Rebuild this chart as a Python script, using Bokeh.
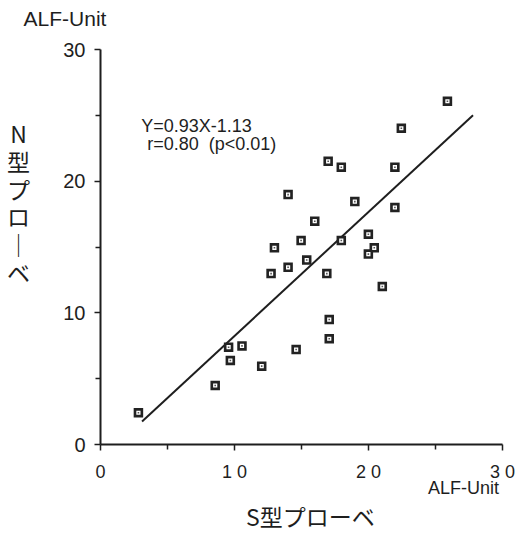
from bokeh.plotting import figure
from bokeh.models import Label, FixedTicker
from bokeh.embed import file_html
from bokeh.resources import INLINE

# --- data ---
s_probe = [2.83, 8.56, 9.56, 9.69, 10.56, 12.03, 12.73, 12.98, 14.0, 14.0,
           14.97, 15.39, 15.99, 16.99, 16.89, 17.07, 17.07, 14.6, 17.97, 17.97,
           18.98, 19.99, 19.99, 20.43, 21.03, 21.97, 21.97, 22.45, 25.89]
n_probe = [2.41, 4.48, 7.39, 6.38, 7.49, 5.95, 12.98, 14.94, 13.46, 18.98,
           15.49, 14.01, 16.96, 21.51, 12.98, 9.49, 8.03, 7.21, 21.06, 15.49,
           18.45, 15.97, 14.46, 14.94, 12.0, 21.06, 18.0, 24.02, 26.07]
fit_x = [3.1, 27.8]
fit_y = [1.75, 25.0]

x_ticks = [0, 10, 20, 30]
x_tick_labels = ["0", "1 0", "2 0", "3 0"]
y_ticks = [0, 10, 20, 30]
minor = [5, 15, 25]

eq_line1 = "Y=0.93X-1.13"
eq_line2 = "r=0.80\u00a0 (p<0.01)"
unit = "ALF-Unit"
x_title = "S型プローベ"
y_title_chars = ["N", "型", "プ", "ロ", "｜", "ベ"]

INK = "#1e1e1e"
LAT = "Liberation Sans"
JP = "Noto Sans CJK JP"

p = figure(width=515, height=533, x_range=(0, 30), y_range=(0, 30),
           output_backend="svg", toolbar_location=None,
           min_border_left=100, min_border_right=13,
           min_border_top=49, min_border_bottom=89)
p.xgrid.visible = False
p.ygrid.visible = False
p.outline_line_color = None
p.background_fill_color = "white"
p.border_fill_color = "white"

for ax in (p.xaxis[0], p.yaxis[0]):
    ax.axis_line_color = INK
    ax.axis_line_width = 2
    ax.major_tick_line_color = INK
    ax.minor_tick_line_color = INK
    ax.major_tick_line_width = 1.5
    ax.minor_tick_line_width = 1.5
    ax.major_tick_in = 0
    ax.minor_tick_in = 0
    ax.major_tick_out = 6
    ax.minor_tick_out = 5
    ax.major_label_text_font = LAT
    ax.major_label_text_color = INK

p.xaxis.ticker = FixedTicker(ticks=x_ticks, minor_ticks=minor)
p.yaxis.ticker = FixedTicker(ticks=y_ticks, minor_ticks=minor)
p.xaxis.major_label_overrides = {t: l for t, l in zip(x_ticks, x_tick_labels)}
p.xaxis.major_label_text_font_size = "18px"
p.xaxis.major_label_standoff = 11
p.yaxis.major_label_text_font_size = "20px"
p.yaxis.major_label_standoff = 9

# regression line
p.line(fit_x, fit_y, line_color=INK, line_width=2)

# markers: dark square, white inner square, small centre dot
p.scatter(s_probe, n_probe, marker="square", size=9.5, fill_color="#222222", line_color=None)
p.scatter(s_probe, n_probe, marker="square", size=4.2, fill_color="white", line_color=None)
p.scatter(s_probe, n_probe, marker="square", size=1.6, fill_color="#555555", line_color=None)

# equation text (inside the frame)
p.add_layout(Label(x=3.04, y=24.22, text=eq_line1, text_font=LAT, text_font_size="18px",
                   text_color=INK, text_baseline="alphabetic"))
p.add_layout(Label(x=3.49, y=22.82, text=eq_line2, text_font=LAT, text_font_size="18px",
                   text_color=INK, text_baseline="alphabetic"))

# texts outside the frame: placed in side panels so that they are not clipped,
# positioned with the plot's data scales
p.add_layout(Label(x=-2.65, y=32.39, text=unit, text_font=LAT, text_font_size="21px",
                   text_color=INK, text_align="center", text_baseline="middle"), "above")
p.add_layout(Label(x=27.09, y=-3.30, text=unit, text_font=LAT, text_font_size="18px",
                   text_color=INK, text_align="center", text_baseline="middle"), "above")
p.add_layout(Label(x=15.67, y=-5.45, text=x_title, text_font=JP, text_font_size="23px",
                   text_color=INK, text_align="center", text_baseline="middle"), "below")
p.add_layout(Label(x=-6.12, y=18.38, text="\n".join(y_title_chars), text_font=JP,
                   text_font_size="23px", text_line_height=0.82,
                   text_color=INK, text_align="center", text_baseline="middle"), "left")

open("out.html", "w").write(file_html(p, INLINE))
